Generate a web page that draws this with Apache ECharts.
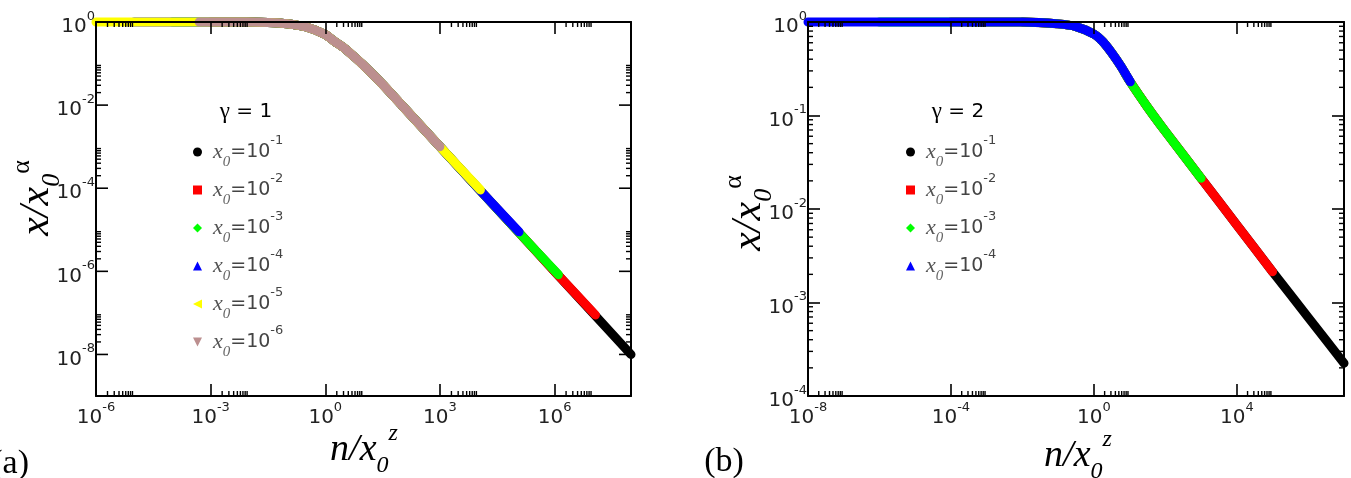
<!DOCTYPE html>
<html><head><meta charset="utf-8">
<script src="https://cdn.jsdelivr.net/npm/echarts@6/dist/echarts.min.js"></script>
<style>html,body{margin:0;padding:0;background:#fff}#chart{width:1351px;height:478px}</style>
</head><body><div id="chart"></div>
<script>
// ---------- DATA : [log10(n/x0^z), log10(x/x0^alpha)] ----------
// panel (a): gamma = 1
const a_names  = ['a x0=10^-1','a x0=10^-2','a x0=10^-3','a x0=10^-4','a x0=10^-5','a x0=10^-6'];
const a_colors = ['#000000','#ff0000','#00ff00','#0000ff','#ffff00','#bc8f8f'];
const a_x0_1 = [[-2,0],[-1.5,-0.01],[-1,-0.04],[-0.5,-0.12],[0,-0.3],[0.25,-0.47],[0.5,-0.63],[0.75,-0.83],[1,-1.04],[1.5,-1.5],[2,-2],[3,-3],[4,-4],[5,-5],[6,-6],[7,-7],[8,-8]];
const a_x0_2 = [[-3,0],[-2,0],[-1.5,-0.01],[-1,-0.04],[-0.5,-0.12],[0,-0.3],[0.25,-0.47],[0.5,-0.63],[0.75,-0.83],[1,-1.04],[1.5,-1.5],[2,-2],[3,-3],[4,-4],[5,-5],[6,-6],[7.07,-7.05]];
const a_x0_3 = [[-4,0],[-2,0],[-1.5,-0.01],[-1,-0.04],[-0.5,-0.12],[0,-0.3],[0.25,-0.47],[0.5,-0.63],[0.75,-0.83],[1,-1.04],[1.5,-1.5],[2,-2],[3,-3],[4,-4],[5,-5],[6.1,-6.08]];
const a_x0_4 = [[-5,0],[-2,0],[-1.5,-0.01],[-1,-0.04],[-0.5,-0.12],[0,-0.3],[0.25,-0.47],[0.5,-0.63],[0.75,-0.83],[1,-1.04],[1.5,-1.5],[2,-2],[3,-3],[4,-4],[5.07,-5.05]];
const a_x0_5 = [[-6,0],[-2,0],[-1.5,-0.01],[-1,-0.04],[-0.5,-0.12],[0,-0.3],[0.25,-0.47],[0.5,-0.63],[0.75,-0.83],[1,-1.04],[1.5,-1.5],[2,-2],[3,-3],[4.06,-4.04]];
const a_x0_6 = [[-3.3,0],[-2,0],[-1.5,-0.01],[-1,-0.04],[-0.5,-0.12],[0,-0.3],[0.25,-0.47],[0.5,-0.63],[0.75,-0.83],[1,-1.04],[1.5,-1.5],[2,-2],[3,-3]];
// panel (b): gamma = 2
const b_names  = ['b x0=10^-1','b x0=10^-2','b x0=10^-3','b x0=10^-4'];
const b_colors = ['#000000','#ff0000','#00ff00','#0000ff'];
const b_x0_1 = [[-2,0],[-1,-0.02],[-0.5,-0.05],[0,-0.13],[0.25,-0.21],[0.5,-0.33],[0.75,-0.47],[1,-0.63],[1.5,-0.91],[2,-1.17],[3,-1.67],[4,-2.17],[5,-2.67],[6,-3.16],[7,-3.65]];
const b_x0_2 = [[-4,0],[-2,0],[-1,-0.02],[-0.5,-0.05],[0,-0.13],[0.25,-0.21],[0.5,-0.33],[0.75,-0.47],[1,-0.63],[1.5,-0.91],[2,-1.17],[3,-1.67],[4,-2.17],[5,-2.67]];
const b_x0_3 = [[-6,0],[-2,0],[-1,-0.02],[-0.5,-0.05],[0,-0.13],[0.25,-0.21],[0.5,-0.33],[0.75,-0.47],[1,-0.63],[1.5,-0.91],[2,-1.17],[3,-1.67]];
const b_x0_4 = [[-8,0],[-2,0],[-1,-0.02],[-0.5,-0.05],[0,-0.13],[0.25,-0.21],[0.5,-0.33],[0.75,-0.47],[1.02,-0.64]];
// axes (exponents of the labelled ticks)
const a_xTickExps = [-6,-3,0,3,6];
const a_yTickExps = [-8,-6,-4,-2,0];
const b_xTickExps = [-8,-4,0,4];
const b_yTickExps = [-4,-3,-2,-1,0];
const a_icons = ['circle','rect','diamond','triangle','path://M0,5L10,0L10,10Z','path://M0,0L10,0L5,10Z'];
const b_icons = ['circle','rect','diamond','triangle'];

// ---------- helpers ----------
const toPts = arr => arr.map(p => [Math.pow(10,p[0]), Math.pow(10,p[1])]);
const AX = '#000';
const supLabel = {
  b:{fontFamily:'DejaVu Sans',fontSize:20,color:'#222',lineHeight:34},
  s:{fontFamily:'DejaVu Sans',fontSize:13,color:'#222',lineHeight:13,verticalAlign:'top'}
};
function labelFmt(exps){
  return v => { const e = Math.round(Math.log10(v)); return exps.indexOf(e) >= 0 ? '{b|10}{s|' + e + '}' : ''; };
}
function xAx(gi, min, max, iv, exps, top){
  return {type:'log', logBase:10, gridIndex:gi, min, max, interval:iv, position: top?'top':'bottom', z:5,
    axisLine:{show:true,onZero:false,lineStyle:{color:AX,width:2}},
    axisTick:{show:true,inside:true,length:12,lineStyle:{color:AX,width:1.6}},
    axisLabel:{show:!top,margin:5,formatter:labelFmt(exps),rich:supLabel,hideOverlap:false},
    splitLine:{show:false}, minorTick:{show:false}};
}
function yAx(gi, min, max, iv, exps, right, ticks){
  return {type:'log', logBase:10, gridIndex:gi, min, max, interval:iv, position: right?'right':'left', z:5,
    axisLine:{show:true,onZero:false,lineStyle:{color:AX,width:2}},
    axisTick:{show:ticks,inside:true,length:12,lineStyle:{color:AX,width:1.6}},
    axisLabel:{show:!right,margin:1,padding:[10,0,0,0],formatter:labelFmt(exps),rich:supLabel,hideOverlap:false},
    splitLine:{show:false}, minorTick:{show:false}};
}
function minorVals(exps){ const out=[]; exps.forEach(m=>{ for(let k=2;k<=9;k++) out.push(k*Math.pow(10,m)); }); return out; }
// extra ticks drawn through the axes' own scales: kind 0 = x minor, 1 = y minor, 2 = y major
function extraTicks(ai, xr, yr, xMaj, yMin, yMajor){
  const data = [];
  minorVals(xMaj).forEach(v => data.push([v, yr[0], 0]));
  minorVals(yMin).forEach(v => data.push([xr[0], v, 1]));
  yMajor.forEach(e => data.push([xr[0], Math.pow(10,e), 2]));
  return {type:'custom', xAxisIndex:ai, yAxisIndex:ai, silent:true, clip:false, z:6, data,
    renderItem(params, api){
      const kind = api.value(2);
      const L = kind === 2 ? 12 : 5;
      const st = {stroke:AX, lineWidth: kind === 2 ? 1.6 : 1.4};
      if (kind === 0) {
        const v = api.value(0);
        const b = api.coord([v, yr[0]]), t = api.coord([v, yr[1]]);
        return {type:'group', children:[
          {type:'line', shape:{x1:b[0],y1:b[1],x2:b[0],y2:b[1]-L}, style:st},
          {type:'line', shape:{x1:t[0],y1:t[1],x2:t[0],y2:t[1]+L}, style:st}]};
      }
      const v = api.value(1);
      const l = api.coord([xr[0], v]), r = api.coord([xr[1], v]);
      return {type:'group', children:[
        {type:'line', shape:{x1:l[0],y1:l[1],x2:l[0]+L,y2:l[1]}, style:st},
        {type:'line', shape:{x1:r[0],y1:r[1],x2:r[0]-L,y2:r[1]}, style:st}]};
    }};
}
function lineSeries(name, color, data, ai){
  return {type:'line', name, xAxisIndex:ai, yAxisIndex:ai, data: toPts(data), showSymbol:false, symbol:'none',
    clip:false, z:2, color, lineStyle:{color, width:9, cap:'round', join:'round'}, smooth:0.2};
}
function legendCfg(names, icons, left, top){
  return {left, top, orient:'vertical', itemGap:2, itemWidth:9, itemHeight:9, selectedMode:false,
    data: names.map((n,i)=>({name:n, icon:icons[i]})),
    formatter: n => '{xi|x}{sub|0}{eq|=10}{sup|' + n.split('^')[1] + '}',
    textStyle:{color:'#444', rich:{
      xi:{fontFamily:'Liberation Serif',fontStyle:'italic',fontSize:22,color:'#555',lineHeight:36,padding:[0,0,0,6]},
      sub:{fontFamily:'Liberation Serif',fontStyle:'italic',fontSize:15,color:'#666',lineHeight:11,verticalAlign:'bottom'},
      eq:{fontFamily:'DejaVu Sans',fontSize:19,color:'#444',lineHeight:36},
      sup:{fontFamily:'DejaVu Sans',fontSize:13,color:'#444',lineHeight:11,verticalAlign:'top'}}}};
}
const xTitleRich = {
  m:{fontFamily:'Liberation Serif',fontStyle:'italic',fontSize:38,color:'#111',lineHeight:56},
  sub:{fontFamily:'Liberation Serif',fontStyle:'italic',fontSize:24,color:'#111',lineHeight:22,verticalAlign:'bottom'},
  sup:{fontFamily:'Liberation Serif',fontStyle:'italic',fontSize:24,color:'#111',lineHeight:22,verticalAlign:'top'}
};
const yTitleRich = {
  m:{fontFamily:'Liberation Serif',fontStyle:'italic',fontSize:42,color:'#111',lineHeight:56},
  sub:{fontFamily:'Liberation Serif',fontStyle:'italic',fontSize:26,color:'#111',lineHeight:22,verticalAlign:'bottom'},
  sup:{fontFamily:'Liberation Serif',fontSize:26,color:'#111',lineHeight:22,verticalAlign:'top'}
};
const tagRich = {g:{fontFamily:'Liberation Serif',fontSize:34,color:'#111'}};
const gamRich = {g:{fontFamily:'Liberation Serif',fontSize:23,color:'#444'},t:{fontFamily:'DejaVu Sans',fontSize:20,color:'#444'}};

const aSeries = [a_x0_1,a_x0_2,a_x0_3,a_x0_4,a_x0_5,a_x0_6].map((d,i)=>lineSeries(a_names[i], a_colors[i], d, 0));
const bSeries = [b_x0_1,b_x0_2,b_x0_3,b_x0_4].map((d,i)=>lineSeries(b_names[i], b_colors[i], d, 2));

const option = {
  animation:false, backgroundColor:'#fff',
  grid:[{left:96,top:22,width:535,height:374},{left:808,top:22,width:536,height:374}],
  xAxis:[xAx(0,1e-6,1e8,3,a_xTickExps,false), xAx(0,1e-6,1e8,3,[],true),
         xAx(1,1e-8,1e7,4,b_xTickExps,false), xAx(1,1e-8,1e7,4,[],true)],
  yAxis:[yAx(0,1e-9,1,1,a_yTickExps,false,false), yAx(0,1e-9,1,1,[],true,false),
         yAx(1,1e-4,1,1,b_yTickExps,false,true), yAx(1,1e-4,1,1,[],true,true)],
  legend:[legendCfg(a_names,a_icons,188,129), legendCfg(b_names,b_icons,901,129)],
  series:[...aSeries, ...bSeries,
    extraTicks(0,[1e-6,1e8],[1e-9,1],a_xTickExps,[-8,-6,-4,-2],[-8,-6,-4,-2]),
    extraTicks(2,[1e-8,1e7],[1e-4,1],b_xTickExps,[-4,-3,-2,-1],[])],
  graphic:[
    {type:'text', x:246, y:112, style:{text:'{g|γ}{t| = 1}', rich:gamRich, align:'center', verticalAlign:'middle'}},
    {type:'text', x:958, y:112, style:{text:'{g|γ}{t| = 2}', rich:gamRich, align:'center', verticalAlign:'middle'}},
    {type:'text', x:37, y:198, rotation:Math.PI/2, style:{text:'{m|x/x}{sub|0}{sup|α}', rich:yTitleRich, align:'center', verticalAlign:'middle'}},
    {type:'text', x:749, y:213, rotation:Math.PI/2, style:{text:'{m|x/x}{sub|0}{sup|α}', rich:yTitleRich, align:'center', verticalAlign:'middle'}},
    {type:'text', x:364, y:450, style:{text:'{m|n/x}{sub|0}{sup|z}', rich:xTitleRich, align:'center', verticalAlign:'middle'}},
    {type:'text', x:1078, y:456, style:{text:'{m|n/x}{sub|0}{sup|z}', rich:xTitleRich, align:'center', verticalAlign:'middle'}},
    {type:'text', x:29, y:464, style:{text:'{g|(a)}', rich:tagRich, align:'right', verticalAlign:'middle'}},
    {type:'text', x:724, y:462, style:{text:'{g|(b)}', rich:tagRich, align:'center', verticalAlign:'middle'}}
  ]
};
const chart = echarts.init(document.getElementById('chart'), null, {renderer:'canvas'});
chart.setOption(option);
</script></body></html>
